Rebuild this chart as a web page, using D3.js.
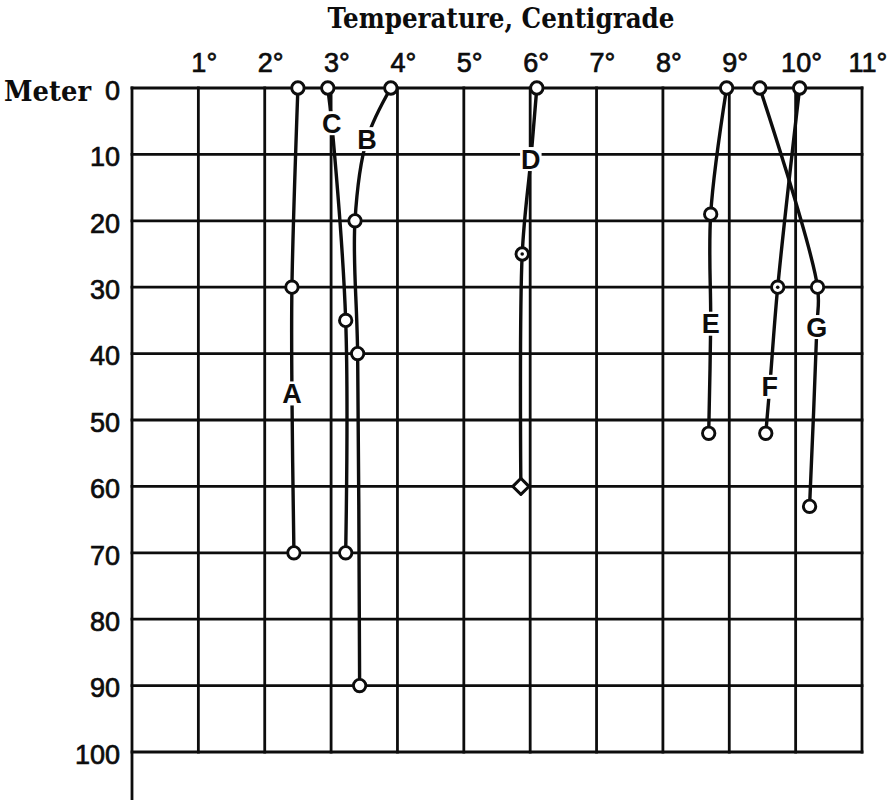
<!DOCTYPE html>
<html><head><meta charset="utf-8">
<script src="https://cdn.jsdelivr.net/npm/d3@7"></script>
<style>body{margin:0;background:#fff} svg{display:block}</style>
</head><body>
<script>
// ---- data ----
const tempTicks = [1,2,3,4,5,6,7,8,9,10,11];
const depthTicks = [0,10,20,30,40,50,60,70,80,90,100];
const seriesNames = ["A","B","C","D","E","F","G"];
const seriesTemps = [
  [2.50, 2.41, 2.44],
  [3.90, 3.36, 3.40, 3.43],
  [2.95, 3.22, 3.22],
  [6.10, 5.88, 5.86],
  [8.96, 8.72, 8.69],
  [10.06, 9.73, 9.55],
  [9.46, 10.33, 10.21]
];
const seriesDepths = [
  [0, 30, 70],
  [0, 20, 40, 90],
  [0, 35, 70],
  [0, 25, 60],
  [0, 19, 52],
  [0, 30, 52],
  [0, 30, 63]
];
const markerKinds = [
  ["o","o","o"],
  ["o","o","o","o"],
  ["o","o","o"],
  ["o","dot","diamond"],
  ["o","o","o"],
  ["o","dot","o"],
  ["o","o","o"]
];
const labelTemps  = [2.41, 3.54, 3.01, 6.01, 8.72, 9.61, 10.32];
const labelDepths = [46, 7.7, 5.3, 10.7, 35.5, 45, 36];

// ---- chart ----
const W = 893, H = 800;
const svg = d3.select("body").append("svg").attr("width", W).attr("height", H);
const x = d3.scaleLinear().domain([0, 11]).range([132, 862]);
const y = d3.scaleLinear().domain([0, 100]).range([88, 752]);
const ink = "#0d0d0d";

// grid
const grid = svg.append("g").attr("stroke", ink).attr("stroke-width", 2.8).attr("stroke-linecap", "square");
grid.selectAll(".v").data(tempTicks).join("line")
  .attr("x1", d => x(d)).attr("x2", d => x(d))
  .attr("y1", y(0)).attr("y2", y(100));
grid.selectAll(".h").data(depthTicks).join("line")
  .attr("x1", x(0)).attr("x2", x(11))
  .attr("y1", d => y(d)).attr("y2", d => y(d));
grid.append("line").attr("x1", x(0)).attr("x2", x(0)).attr("y1", y(0)).attr("y2", H);

const sansFont = "'Liberation Sans', Arial, sans-serif";
// top axis
const xAxis = d3.axisTop(x).tickValues(tempTicks).tickSize(0).tickPadding(16).tickFormat(d => d + "°");
const gx = svg.append("g").attr("transform", `translate(0,${y(0)})`).call(xAxis);
gx.select(".domain").remove();
gx.selectAll("text").attr("font-family", sansFont)
  .attr("font-size", 27).attr("fill", ink).attr("stroke", ink).attr("stroke-width", 0.7).attr("dx", "0.2em");

// left axis
const yAxis = d3.axisLeft(y).tickValues(depthTicks).tickSize(0).tickPadding(12);
const gy = svg.append("g").attr("transform", `translate(${x(0)},0)`).call(yAxis);
gy.select(".domain").remove();
gy.selectAll("text").attr("font-family", sansFont)
  .attr("font-size", 27).attr("fill", ink).attr("stroke", ink).attr("stroke-width", 0.7).attr("dy", "0.42em");

svg.append("text").text("Meter")
  .attr("x", 91).attr("y", y(0) + 13).attr("text-anchor", "end")
  .attr("font-family", "'DejaVu Serif', serif").attr("font-weight", "bold")
  .attr("font-size", 27).attr("textLength", 87).attr("lengthAdjust", "spacingAndGlyphs").attr("fill", ink);

svg.append("text").text("Temperature, Centigrade")
  .attr("x", 501).attr("y", 28).attr("text-anchor", "middle")
  .attr("font-family", "'DejaVu Serif', serif").attr("font-weight", "bold")
  .attr("font-size", 27).attr("textLength", 347).attr("lengthAdjust", "spacingAndGlyphs").attr("fill", ink);

// series
const line = d3.line().x(d => x(d[0])).y(d => y(d[1])).curve(d3.curveCatmullRom.alpha(0.5));
seriesNames.forEach((name, i) => {
  const pts = seriesTemps[i].map((t, j) => [t, seriesDepths[i][j]]);
  const path = pts.concat([[labelTemps[i], labelDepths[i]]]).sort((a, b) => a[1] - b[1]);
  svg.append("path").attr("d", line(path)).attr("fill", "none")
    .attr("stroke", ink).attr("stroke-width", 3.4).attr("stroke-linecap", "round");
});
seriesNames.forEach((name, i) => {
  const g = svg.append("g");
  seriesTemps[i].forEach((t, j) => {
    const cx = x(t), cy = y(seriesDepths[i][j]), k = markerKinds[i][j];
    if (k === "diamond") {
      g.append("path").attr("d", d3.symbol(d3.symbolSquare, 130)())
        .attr("transform", `translate(${cx},${cy}) rotate(45)`)
        .attr("fill", "#fff").attr("stroke", ink).attr("stroke-width", 3).attr("stroke-linejoin", "round");
    } else {
      g.append("circle").attr("cx", cx).attr("cy", cy).attr("r", 6.2)
        .attr("fill", "#fff").attr("stroke", ink).attr("stroke-width", 2.9);
      if (k === "dot") g.append("circle").attr("cx", cx).attr("cy", cy).attr("r", 1.8).attr("fill", ink);
    }
  });
});
// series labels on white patches that break the lines
const lg = svg.append("g");
seriesNames.forEach((name, i) => {
  const gg = lg.append("g");
  const bg = gg.append("rect").attr("fill", "#fff");
  const t = gg.append("text").text(name)
    .attr("x", x(labelTemps[i])).attr("y", y(labelDepths[i]) + 9.5)
    .attr("text-anchor", "middle")
    .attr("font-family", sansFont).attr("font-weight", "bold")
    .attr("font-size", 27).attr("fill", ink);
  const b = t.node().getBBox();
  bg.attr("x", b.x - 1).attr("width", b.width + 2)
    .attr("y", y(labelDepths[i]) - 12).attr("height", 24);
});
</script>
</body></html>
